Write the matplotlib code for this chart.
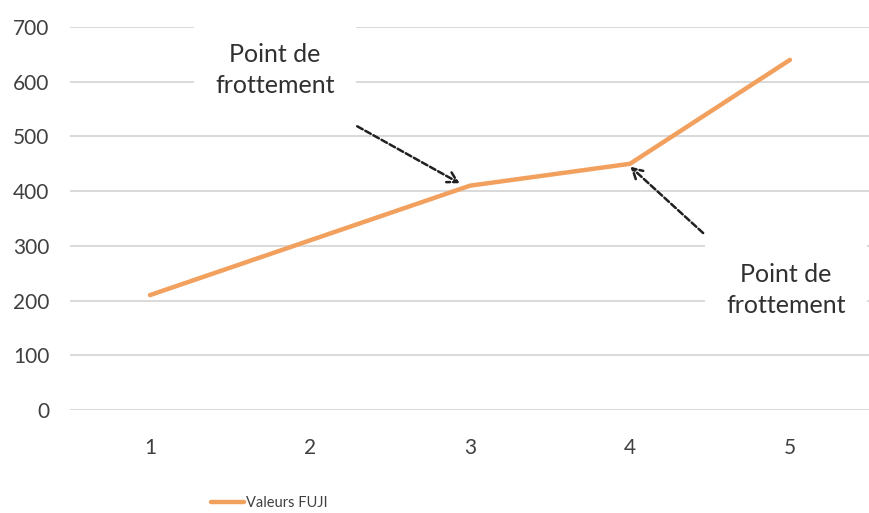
import matplotlib
matplotlib.use("Agg")
import matplotlib.pyplot as plt

categories = [1, 2, 3, 4, 5]
values = [210, 310, 410, 450, 640]
yticks = [0, 100, 200, 300, 400, 500, 600, 700]
series_name = "Valeurs FUJI"
note = "Point de\nfrottement"

plt.rcParams['font.family'] = ['Lato', 'DejaVu Sans']

fig = plt.figure(figsize=(8.7, 5.13), dpi=100)
ax = fig.add_axes([70/870, 1-410/513, 800/870, (410-27)/513])

line, = ax.plot(categories, values, color='#F2A05E', lw=3.2, solid_capstyle='round',
                label=series_name, zorder=3)

ax.set_xlim(0.5, 5.5)
ax.set_ylim(0, 700)
ax.set_yticks(yticks)
ax.set_xticks(categories)
ax.set_yticklabels([str(v) for v in yticks])
ax.set_xticklabels([str(c) for c in categories])
ax.grid(axis='y', color='#D9D9D9', lw=1.4)
ax.set_axisbelow(True)
for s in ax.spines.values():
    s.set_visible(False)
ax.tick_params(axis='both', length=0, labelsize=15, colors='#404040')
ax.tick_params(axis='y', pad=15)
ax.tick_params(axis='x', pad=20)

bbox = dict(boxstyle='square,pad=0.85', fc='white', ec='none')
ax.text(1.78, 621, note, ha='center', va='center', fontsize=18, color='#303030',
        bbox=bbox, linespacing=1.45, zorder=4)
ax.text(4.975, 219, note, ha='center', va='center', fontsize=18, color='#303030',
        bbox=bbox, linespacing=1.45, zorder=4)

arrowprops = dict(arrowstyle='->,head_length=0.7,head_width=0.4', color='#202020',
                  lw=1.8, linestyle=(0, (2.5, 1.2)))
ax.annotate('', xy=(categories[2] - 0.05, values[2] + 2), xytext=(2.28, 521),
            arrowprops=arrowprops, zorder=5)
ax.annotate('', xy=(categories[3] - 0.01, values[3] - 2), xytext=(4.47, 320),
            arrowprops=arrowprops, zorder=5)

fig.legend(handles=[line], loc='center', bbox_to_anchor=(269/870, 1-503/513),
           frameon=False, fontsize=10.5, handlelength=2.3, handletextpad=0.1,
           labelcolor='#404040')

fig.savefig('out.png', dpi=100)
